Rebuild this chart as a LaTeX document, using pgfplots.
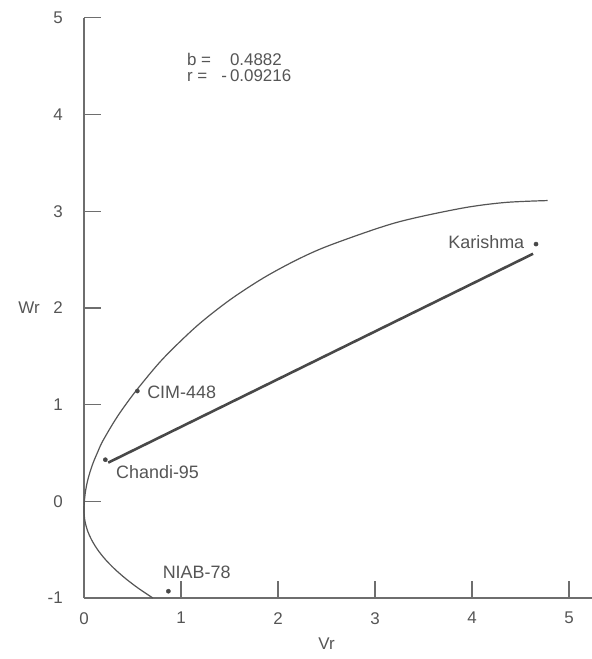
\documentclass[border=0pt]{standalone}
\usepackage{fontspec}
\setmainfont{Liberation Sans}
\usepackage{pgfplots}
\pgfplotsset{compat=1.18}
\definecolor{ink}{HTML}{555555}
\definecolor{axisgray}{HTML}{6E6E6E}
\begin{document}
\begin{tikzpicture}
\useasboundingbox (0,0) rectangle (592bp,659bp);
\begin{axis}[
  at={(84bp,61bp)}, anchor=south west,
  x=97bp, y=96.7bp,
  xmin=0, xmax=5.25, ymin=-1, ymax=5,
  axis lines*=left,
  axis line style={axisgray, line width=1.3bp},
  xtick={0,1,2,3,4,5}, ytick={-1,0,1,2,3,4,5},
  tick align=inside,
  major tick length=17bp,
  tick style={axisgray, line width=1.3bp},
  tick label style={ink, font=\fontsize{17}{20}\selectfont, inner sep=0pt},
  /pgf/number format/assume math mode=true,
  xticklabel shift=14bp,
  yticklabel shift=21bp,
  xlabel={Vr}, ylabel={Wr},
  every axis x label/.style={at={(axis cs:2.5,-1)}, anchor=north, yshift=-40bp, inner sep=0pt, ink, font=\fontsize{17}{20}\selectfont},
  every axis y label/.style={at={(axis cs:0,2)}, anchor=east, xshift=-44bp, inner sep=0pt, ink, font=\fontsize{17}{20}\selectfont},
  clip=false,
]
% limiting curve
\addplot[ink, line width=1.2bp, smooth, tension=0.5] coordinates {
 (0.710,-1.00) (0.561,-0.90) (0.430,-0.80) (0.316,-0.70) (0.219,-0.60)
 (0.140,-0.50) (0.079,-0.40) (0.035,-0.30) (0.009,-0.20) (0.000,-0.10)
 (0.004,0.00) (0.015,0.10) (0.034,0.20) (0.061,0.30) (0.095,0.40)
 (0.137,0.50) (0.181,0.60) (0.237,0.70) (0.296,0.80) (0.360,0.90)
 (0.430,1.00) (0.550,1.16) (0.810,1.47) (1.160,1.81) (1.500,2.08)
 (1.850,2.31) (2.200,2.50) (2.540,2.65) (3.210,2.88) (3.890,3.03)
 (4.340,3.09) (4.780,3.11)
};
% regression line
\addplot[ink!85!black, line width=2.6bp] coordinates {(0.25,0.40) (4.63,2.56)};
% genotypes
\addplot[only marks, mark=*, mark size=2.1bp, ink!85!black] coordinates {
 (4.66,2.66) (0.55,1.14) (0.22,0.43) (0.87,-0.93)
};
\node[anchor=east, inner sep=0pt, ink, font=\fontsize{18}{20}\selectfont] at (axis cs:4.54,2.68) {Karishma};
\node[anchor=west, inner sep=0pt, ink, font=\fontsize{18}{20}\selectfont] at (axis cs:0.65,1.13) {CIM-448};
\node[anchor=west, inner sep=0pt, ink, font=\fontsize{18}{20}\selectfont] at (axis cs:0.33,0.30) {Chandi-95};
\node[anchor=west, inner sep=0pt, ink, font=\fontsize{18}{20}\selectfont] at (axis cs:0.81,-0.73) {NIAB-78};
% statistics
\node[anchor=north west, inner sep=0pt, align=left, ink, font=\fontsize{17}{16.5}\selectfont] at (axis cs:1.06,4.64)
 {\makebox[43bp][l]{b =}0.4882\\\makebox[43bp][l]{r =}\llap{-\hspace{3bp}}0.09216};
\end{axis}
\end{tikzpicture}
\end{document}
